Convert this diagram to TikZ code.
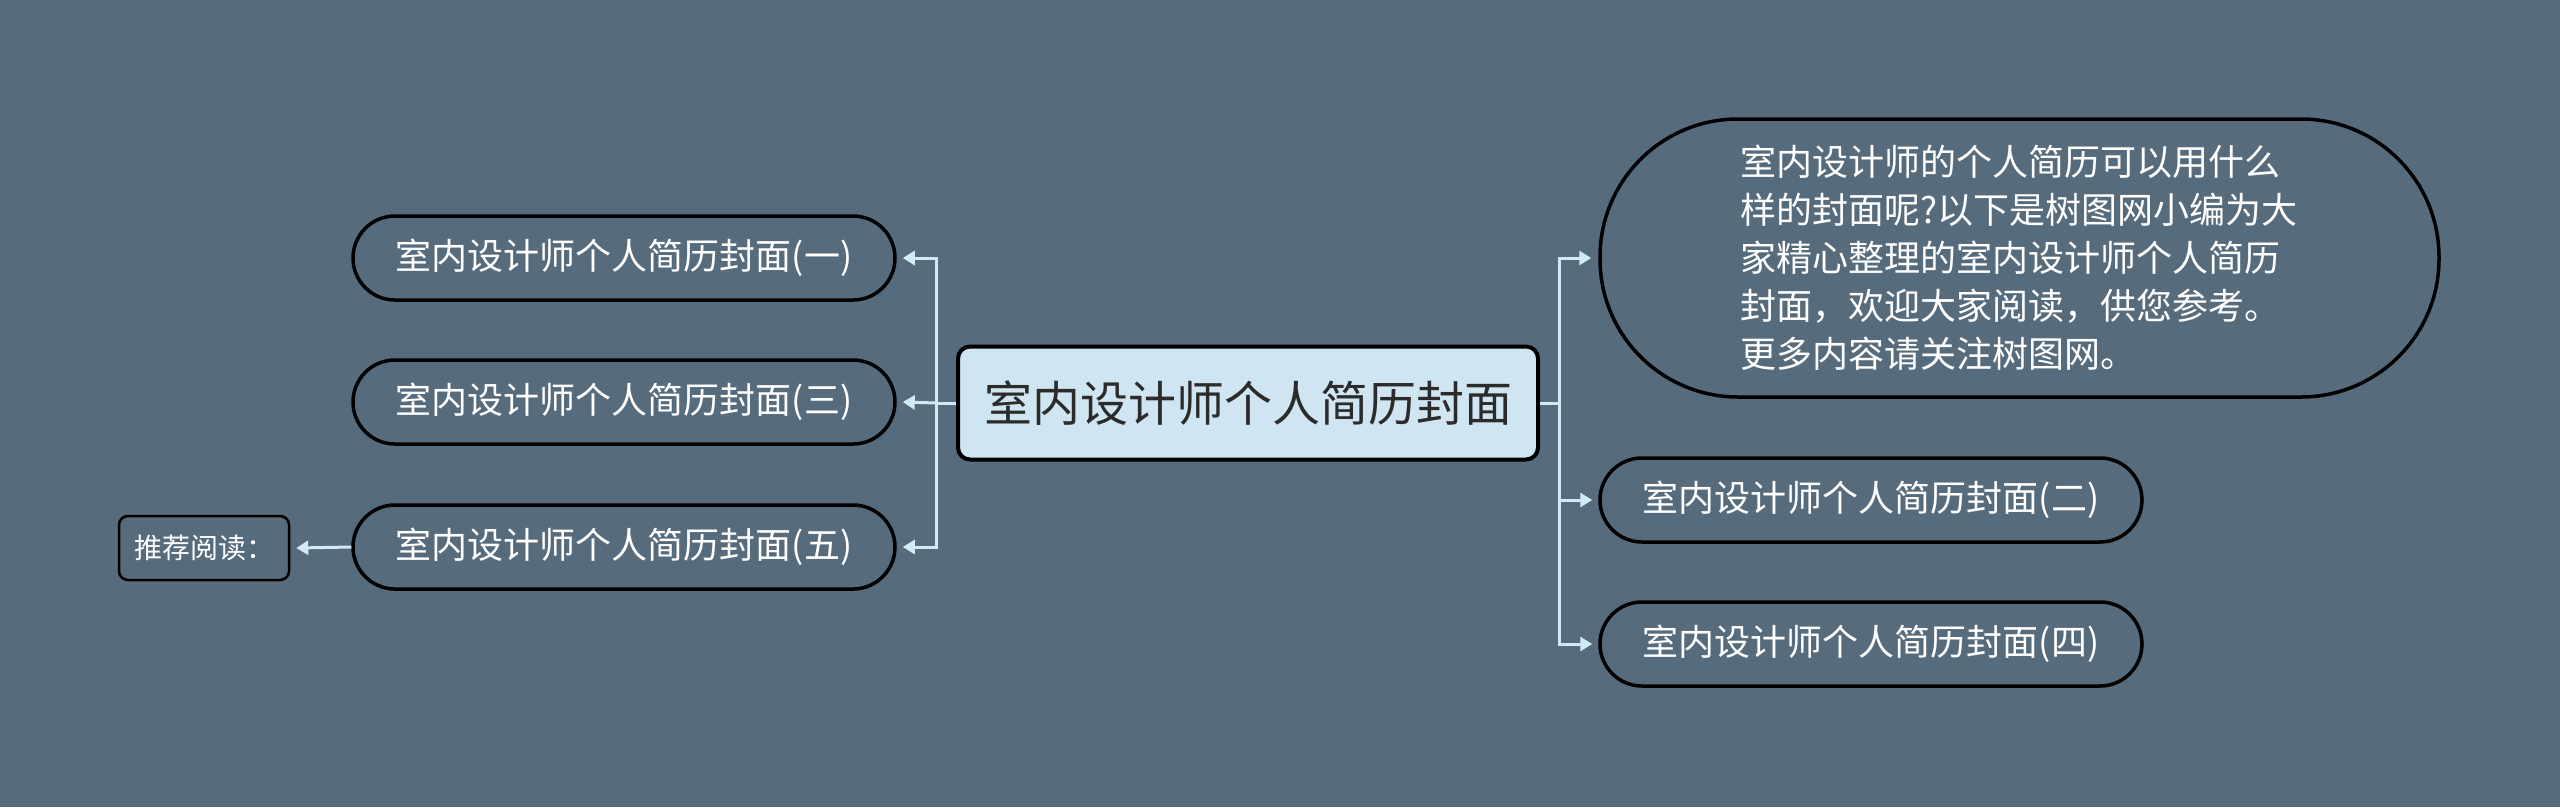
\documentclass[tikz,border=0pt]{standalone}
\usepackage{fontspec}
\newfontfamily\cjk{Noto Sans CJK SC}
\usetikzlibrary{arrows.meta,positioning}
\definecolor{bgc}{HTML}{566B7B}
\definecolor{conn}{HTML}{D2E9F6}
\definecolor{rootfill}{HTML}{CFE5F2}
\definecolor{rootText}{HTML}{2B2B2B}
\tikzset{
  topic/.style={draw=black, line width=3.5pt, fill=bgc, text=white, rounded corners=42pt,
    minimum width=542pt, minimum height=84pt, inner sep=0pt, font=\cjk\fontsize{36}{44}\selectfont},
  rootbox/.style={draw=black, line width=4pt, fill=rootfill, text=rootText, rounded corners=12pt,
    minimum width=580pt, minimum height=113pt, inner sep=0pt, font=\cjk\fontsize{48}{56}\selectfont},
  bigbox/.style={draw=black, line width=3.5pt, fill=bgc, text=white, rounded corners=138pt,
    minimum width=839pt, minimum height=278pt, inner sep=0pt},
  smallbox/.style={draw=black, line width=2.5pt, fill=bgc, text=white, rounded corners=9pt,
    minimum width=170pt, minimum height=64pt, inner sep=0pt, font=\cjk\fontsize{28}{32}\selectfont},
  link/.style={draw=conn, line width=3pt, -{Triangle[length=12pt,width=14pt]}},
  plain/.style={draw=conn, line width=3pt},
}
\begin{document}
\begin{tikzpicture}[x=1pt,y=-1pt]
\fill[bgc] (0,0) rectangle (2560,807);
\useasboundingbox (0,0) rectangle (2560,807);

\node[rootbox] (root) at (1248,403) {室内设计师个人简历封面};

\node[topic] (n1) at (624,258) {室内设计师个人简历封面(一)};
\node[topic] (n3) at (624,402) {室内设计师个人简历封面(三)};
\node[topic] (n5) at (624,547) {室内设计师个人简历封面(五)};
\node[smallbox] (rec) at (204,548) {推荐阅读：};

\node[bigbox] (big) at (2019.5,258) {};
\node[text=white, align=left, anchor=west, inner sep=0pt,
      font=\cjk\fontsize{36}{48}\selectfont] (bigtext) at (1740,258)
  {室内设计师的个人简历可以用什么\\样的封面呢?以下是树图网小编为大\\家精心整理的室内设计师个人简历\\封面，欢迎大家阅读，供您参考。\\更多内容请关注树图网。};
\node[topic] (n2) at (1871,500) {室内设计师个人简历封面(二)};
\node[topic] (n4) at (1871,644) {室内设计师个人简历封面(四)};

\coordinate (tl) at (936,403);
\coordinate (tr) at (1559,403);

\draw[plain] (root.west) -- (tl);
\draw[link] (tl) |- ([xshift=6pt]n1.east);
\draw[link] (tl) -- ([xshift=6pt]n3.east);
\draw[link] (tl) |- ([xshift=6pt]n5.east);
\draw[link] (n5.west) -- ([xshift=6pt]rec.east);

\draw[plain] (root.east) -- (tr);
\draw[link] (tr) |- ([xshift=-7pt]big.west);
\draw[link] (tr) |- ([xshift=-6pt]n2.west);
\draw[link] (tr) |- ([xshift=-6pt]n4.west);
\end{tikzpicture}
\end{document}
